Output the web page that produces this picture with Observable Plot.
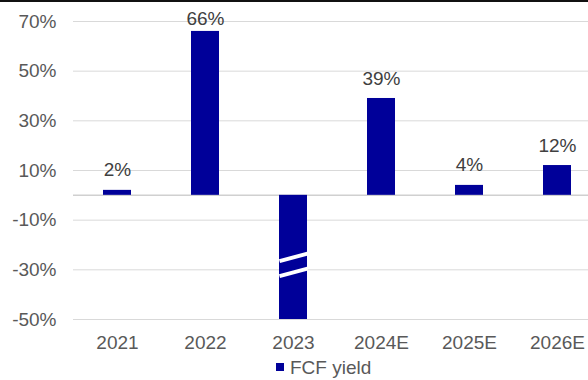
<!DOCTYPE html>
<html>
<head>
<meta charset="utf-8">
<script src="https://cdn.jsdelivr.net/npm/d3@7"></script>
<script src="https://cdn.jsdelivr.net/npm/@observablehq/plot@0.6"></script>
<style>
  html, body { margin: 0; padding: 0; background: #fff; }
  body { width: 588px; height: 380px; overflow: hidden; position: relative; font-family: "Liberation Sans", Arial, sans-serif; }
  #topline { position: absolute; left: 0; top: 0; width: 588px; height: 2px; background: #111; }
  #legend { position: relative; height: 25px; font-size: 19px; color: #595959; }
  #legend .sw { position: absolute; left: 276px; top: 8px; width: 8px; height: 8px; background: #000099; }
  #legend .lb { position: absolute; left: 290px; top: 3px; line-height: 19px; white-space: nowrap; }
</style>
</head>
<body>
<div id="topline"></div>
<div id="chart"></div>
<div id="legend"><span class="sw"></span><span class="lb">FCF yield</span></div>
<script>
const years = ["2021", "2022", "2023", "2024E", "2025E", "2026E"];
const fcfYield = [2, 66, -50, 39, 4, 12];          // 2023 is off the scale (axis broken at -50%)
const showLabel = [true, true, false, true, true, true];
const yTicks = [70, 50, 30, 10, -10, -30, -50];
const breakMarks = [-25, -31];                      // positions of the axis-break marks on the 2023 bar
const brokenYear = "2023";
const seriesName = "FCF yield";

const data = years.map((y, i) => ({ year: y, value: fcfYield[i], show: showLabel[i] }));

const plot = Plot.plot({
  width: 588,
  height: 355,
  marginTop: 21,
  marginBottom: 36,
  marginLeft: 73,
  marginRight: -13,
  style: { fontFamily: "'Liberation Sans', Arial, sans-serif", fontSize: "19px", color: "#595959", background: "#fff" },
  x: { domain: years, paddingInner: 0.68, paddingOuter: 0.34, label: null, tickSize: 0, tickPadding: 16 },
  y: { domain: [-50, 70], ticks: yTicks, tickFormat: d => d + "%", label: null, tickSize: 0, tickPadding: 17 },
  marks: [
    Plot.ruleY(yTicks, { stroke: "#d9d9d9", strokeWidth: 1 }),
    Plot.ruleY([0], { stroke: "#d0d0d0", strokeWidth: 1.5 }),
    Plot.barY(data, { x: "year", y: "value", fill: "#000099" }),
    Plot.vector(breakMarks.map(v => ({ year: brokenYear, value: v })), {
      x: "year", y: "value", length: 29, rotate: 75, anchor: "middle",
      stroke: "#fff", strokeWidth: 4, strokeLinecap: "butt",
      shape: { draw(context, l) { context.moveTo(0, 0); context.lineTo(0, -l); } }
    }),
    Plot.text(data.filter(d => d.show), {
      x: "year", y: d => Math.min(d.value, 63), text: d => d.value + "%",
      dy: -20, fill: "#404040", fontSize: 19
    })
  ]
});
document.getElementById("chart").appendChild(plot);
</script>
</body>
</html>
